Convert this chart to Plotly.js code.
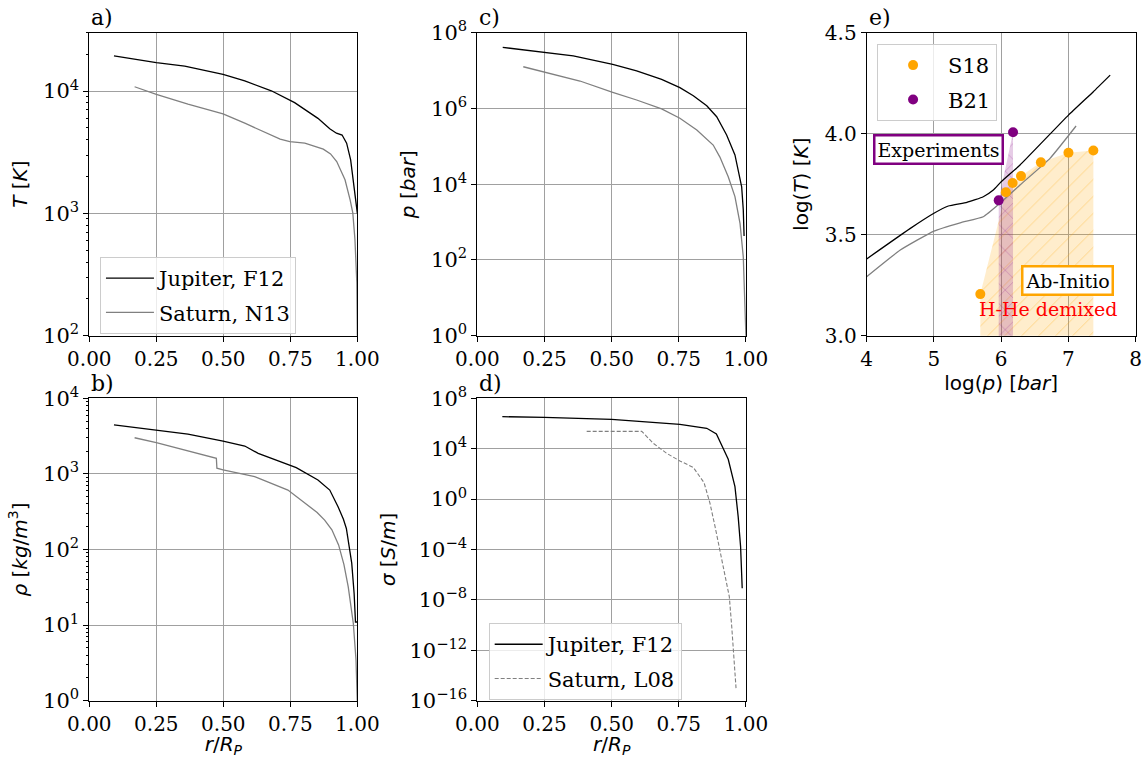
<!DOCTYPE html>
<html>
<head>
<meta charset="utf-8">
<script src="https://cdn.plot.ly/plotly-3.0.1.min.js"></script>
<style>html,body{margin:0;padding:0;background:#fff;}#chart{width:1145px;height:758px;}</style>
</head>
<body>
<div id="chart"></div>
<script>
// ---- Panel a: temperature vs radius ----
const rJupT = [0.092, 0.25, 0.356, 0.499, 0.58, 0.679, 0.766, 0.853, 0.897, 0.922, 0.943, 0.96, 0.975, 0.985, 0.993, 0.998, 1.0];
const TJup  = [19400, 17100, 16000, 13700, 12100, 10050, 8040, 5980, 4920, 4520, 4370, 3750, 2740, 1770, 1290, 1000, 1000];
const rSatT = [0.169, 0.25, 0.368, 0.499, 0.58, 0.667, 0.712, 0.748, 0.804, 0.873, 0.9, 0.923, 0.954, 0.973, 0.983, 0.991, 0.998, 1.0];
const TSat  = [10840, 9400, 7830, 6500, 5460, 4520, 4040, 3860, 3750, 3350, 3060, 2650, 1880, 1290, 1010, 611, 271, 95];

// ---- Panel b: density vs radius ----
const rJupRho = [0.092, 0.25, 0.368, 0.499, 0.58, 0.63, 0.692, 0.772, 0.853, 0.897, 0.928, 0.948, 0.959, 0.966, 0.979, 0.988, 0.993, 1.0];
const rhoJup  = [4440, 3810, 3370, 2720, 2340, 1870, 1560, 1210, 830, 612, 368, 251, 190, 135, 66, 26, 11, 11];
const rSatRho = [0.169, 0.25, 0.474, 0.476, 0.499, 0.617, 0.741, 0.816, 0.85, 0.878, 0.905, 0.93, 0.95, 0.966, 0.985, 0.995, 1.0];
const rhoSat  = [3010, 2590, 1610, 1190, 1130, 920, 612, 388, 309, 245, 182, 115, 63, 32, 10.5, 3.45, 0.9];

// ---- Panel c: pressure vs radius ----
const rJupP = [0.0945, 0.252, 0.357, 0.504, 0.593, 0.686, 0.754, 0.804, 0.854, 0.891, 0.928, 0.959, 0.971, 0.984, 0.99, 0.993];
const pJup  = [4.1e7, 3.03e7, 2.43e7, 1.46e7, 9.75e6, 5.87e6, 3.53e6, 2.17e6, 1.18e6, 6.05e5, 1.99e5, 5.9e4, 2.3e4, 8.5e3, 2.1e3, 430];
const rSatP = [0.171, 0.252, 0.382, 0.504, 0.593, 0.686, 0.754, 0.817, 0.878, 0.903, 0.92, 0.934, 0.959, 0.978, 0.99, 0.996, 1.0];
const pSat  = [1.26e7, 9.0e6, 5.3e6, 2.67e6, 1.67e6, 9.7e5, 5.5e5, 2.7e5, 1.08e5, 5.2e4, 2.8e4, 1.58e4, 4.7e3, 910, 120, 8.7, 0.9];

// ---- Panel d: conductivity vs radius ----
const rJupSig = [0.093, 0.25, 0.5, 0.63, 0.754, 0.854, 0.89, 0.934, 0.959, 0.971, 0.98, 0.986];
const sigJup  = [3.5e6, 3.1e6, 2.14e6, 1.41e6, 8.7e5, 4.2e5, 1.48e5, 1450, 9.8, 0.041, 1.7e-4, 8.3e-8];
const rSatSig = [0.407, 0.612, 0.655, 0.705, 0.754, 0.804, 0.844, 0.866, 0.885, 0.903, 0.922, 0.938, 0.947, 0.955, 0.963];
const sigSat  = [2.4e5, 2.4e5, 2.7e4, 4.3e3, 1.07e3, 330, 20, 0.47, 6.5e-3, 9.1e-5, 1.3e-6, 1.8e-8, 7.6e-11, 1.7e-13, 1e-15];

// ---- Panel e: log T vs log p ----
const lpJup = [4.0, 4.644, 5.0, 5.214, 5.49, 5.734, 5.883, 6.0, 6.28, 7.0, 7.37, 7.62];
const ltJup = [3.380, 3.530, 3.606, 3.642, 3.660, 3.688, 3.721, 3.762, 3.845, 4.092, 4.208, 4.29];
const lpSat = [4.0, 4.5, 5.0, 5.39, 5.734, 5.98, 6.28, 6.726, 7.113];
const ltSat = [3.292, 3.424, 3.518, 3.559, 3.589, 3.655, 3.746, 3.878, 4.038];
const lpS18 = [5.69, 6.07, 6.17, 6.295, 6.59, 7.0, 7.37];
const ltS18 = [3.206, 3.71, 3.756, 3.79, 3.858, 3.906, 3.917];
const lpB21 = [5.963, 6.176];
const ltB21 = [3.67, 4.007];

// ---- tick labels ----
const rTicks = [0, 0.25, 0.5, 0.75, 1.0];
const rTickText = ['0.00', '0.25', '0.50', '0.75', '1.00'];
const tTicks = [100, 1000, 10000];
const tTickText = ['10<sup>2</sup>', '10<sup>3</sup>', '10<sup>4</sup>'];
const rhoTicks = [1, 10, 100, 1000, 10000];
const rhoTickText = ['10<sup>0</sup>', '10<sup>1</sup>', '10<sup>2</sup>', '10<sup>3</sup>', '10<sup>4</sup>'];
const pTicks = [1, 1e2, 1e4, 1e6, 1e8];
const pTickText = ['10<sup>0</sup>', '10<sup>2</sup>', '10<sup>4</sup>', '10<sup>6</sup>', '10<sup>8</sup>'];
const sigTicks = [1e-16, 1e-12, 1e-8, 1e-4, 1, 1e4, 1e8];
const sigTickText = ['10<sup>\u221216</sup>', '10<sup>\u221212</sup>', '10<sup>\u22128</sup>', '10<sup>\u22124</sup>', '10<sup>0</sup>', '10<sup>4</sup>', '10<sup>8</sup>'];

function minorLog(d0, d1) {
  const v = [];
  for (let d = d0; d < d1; d++) for (let m = 2; m <= 9; m++) v.push(m * Math.pow(10, d));
  return v;
}

const BLACK = '#000000', GREY = '#808080', ORANGE = '#FFA500', PURPLE = '#800080';
const serif = 'DejaVu Serif', sans = 'DejaVu Sans';

const traces = [
  // a
  {x: rJupT, y: TJup, xaxis: 'x', yaxis: 'y', mode: 'lines', line: {color: BLACK, width: 1.3}, name: 'Jupiter, F12', legend: 'legend', legendgroup: 'a1'},
  {x: rSatT, y: TSat, xaxis: 'x', yaxis: 'y', mode: 'lines', line: {color: GREY, width: 1.3}, name: 'Saturn, N13', legend: 'legend', legendgroup: 'a2'},
  // b
  {x: rJupRho, y: rhoJup, xaxis: 'x2', yaxis: 'y2', mode: 'lines', line: {color: BLACK, width: 1.3}, showlegend: false},
  {x: rSatRho, y: rhoSat, xaxis: 'x2', yaxis: 'y2', mode: 'lines', line: {color: GREY, width: 1.3}, showlegend: false},
  // c
  {x: rJupP, y: pJup, xaxis: 'x3', yaxis: 'y3', mode: 'lines', line: {color: BLACK, width: 1.3}, showlegend: false},
  {x: rSatP, y: pSat, xaxis: 'x3', yaxis: 'y3', mode: 'lines', line: {color: GREY, width: 1.3}, showlegend: false},
  // d
  {x: rJupSig, y: sigJup, xaxis: 'x4', yaxis: 'y4', mode: 'lines', line: {color: BLACK, width: 1.3}, name: 'Jupiter, F12', legend: 'legend2', legendgroup: 'd1'},
  {x: rSatSig, y: sigSat, xaxis: 'x4', yaxis: 'y4', mode: 'lines', line: {color: GREY, width: 1.1, dash: '4px,2px'}, name: 'Saturn, L08', legend: 'legend2', legendgroup: 'd2'},
  // e fills
  {x: lpS18, y: ltS18, xaxis: 'x5', yaxis: 'y5', mode: 'none', fill: 'tozeroy', fillcolor: 'rgba(255,165,0,0.2)',
   fillpattern: {shape: '/', bgcolor: 'rgba(255,165,0,0.2)', fgcolor: 'rgba(255,165,0,0.35)', size: 12, solidity: 0.08}, showlegend: false, hoverinfo: 'skip'},
  {x: lpB21, y: ltB21, xaxis: 'x5', yaxis: 'y5', mode: 'none', fill: 'tozeroy', fillcolor: 'rgba(128,0,128,0.2)',
   fillpattern: {shape: 'x', bgcolor: 'rgba(128,0,128,0.2)', fgcolor: 'rgba(128,0,128,0.4)', size: 14, solidity: 0.08}, showlegend: false, hoverinfo: 'skip'},
  // e lines
  {x: lpJup, y: ltJup, xaxis: 'x5', yaxis: 'y5', mode: 'lines', line: {color: BLACK, width: 1.3, shape: 'spline', smoothing: 0.4}, showlegend: false},
  {x: lpSat, y: ltSat, xaxis: 'x5', yaxis: 'y5', mode: 'lines', line: {color: GREY, width: 1.3, shape: 'spline', smoothing: 0.4}, showlegend: false},
  // e points
  {x: lpS18, y: ltS18, xaxis: 'x5', yaxis: 'y5', mode: 'markers', marker: {color: ORANGE, size: 10}, name: 'S18', legend: 'legend3', legendgroup: 'e1'},
  {x: lpB21, y: ltB21, xaxis: 'x5', yaxis: 'y5', mode: 'markers', marker: {color: PURPLE, size: 10}, name: 'B21', legend: 'legend3', legendgroup: 'e2'}
];

const base = {
  showline: true, mirror: true, linecolor: BLACK, linewidth: 1,
  ticks: 'outside', ticklen: 5, tickwidth: 1, tickcolor: BLACK,
  showgrid: true, gridcolor: '#a0a0a0', gridwidth: 1, zeroline: false,
  tickfont: {family: serif, size: 20, color: BLACK}, automargin: false
};
function ax(extra) { return Object.assign({}, base, extra); }
const tf = {family: sans, size: 20, color: BLACK};
const logFont = {family: serif, size: 21, color: BLACK};

const xdA = [0.078, 0.3121], xdC = [0.4169, 0.6515], xdE = [0.7569, 0.9919];
const ydTop = [0.5571, 0.9569], ydBot = [0.0756, 0.4745];

const rx = (dom, anchor, withTitle) => ax({domain: dom, anchor: anchor, range: [0, 1], tickmode: 'array', tickvals: rTicks, ticktext: rTickText,
  title: withTitle ? {text: '<i>r</i>/<i>R<sub>P</sub></i>', font: tf, standoff: 6} : undefined});

const legBase = {bgcolor: 'rgba(255,255,255,0.8)', bordercolor: '#cccccc', borderwidth: 1,
  font: {family: serif, size: 21, color: BLACK}, itemwidth: 48, traceorder: 'grouped', tracegroupgap: 4,
  xanchor: 'left', yanchor: 'top'};

const layout = {
  width: 1145, height: 758, margin: {l: 0, r: 0, t: 0, b: 0},
  paper_bgcolor: '#ffffff', plot_bgcolor: '#ffffff',
  xaxis: rx(xdA, 'y', false),
  yaxis: ax({domain: ydTop, anchor: 'x', type: 'log', range: [2, Math.log10(3e4)], tickmode: 'array', tickvals: tTicks, ticktext: tTickText, tickfont: logFont,
    minor: {tickmode: 'array', tickvals: minorLog(2, 5), ticks: 'outside', ticklen: 2.5, tickcolor: BLACK, showgrid: false},
    title: {text: '<i>T</i> [<i>K</i>]', font: tf, standoff: 10}}),
  xaxis2: rx(xdA, 'y2', true),
  yaxis2: ax({domain: ydBot, anchor: 'x2', type: 'log', range: [0, 4], tickmode: 'array', tickvals: rhoTicks, ticktext: rhoTickText, tickfont: logFont,
    minor: {tickmode: 'array', tickvals: minorLog(0, 4), ticks: 'outside', ticklen: 2.5, tickcolor: BLACK, showgrid: false},
    title: {text: '<i>\u03c1</i> [<i>kg</i>/<i>m</i><sup>3</sup>]', font: tf, standoff: 10}}),
  xaxis3: rx(xdC, 'y3', false),
  yaxis3: ax({domain: ydTop, anchor: 'x3', type: 'log', range: [0, 8], tickmode: 'array', tickvals: pTicks, ticktext: pTickText, tickfont: logFont,
    title: {text: '<i>p</i> [<i>bar</i>]', font: tf, standoff: 10}}),
  xaxis4: rx(xdC, 'y4', true),
  yaxis4: ax({domain: ydBot, anchor: 'x4', type: 'log', range: [-16, 8], tickmode: 'array', tickvals: sigTicks, ticktext: sigTickText, tickfont: logFont,
    title: {text: '<i>\u03c3</i> [<i>S</i>/<i>m</i>]', font: tf, standoff: 8}}),
  xaxis5: ax({domain: xdE, anchor: 'y5', range: [4, 8], dtick: 1, tick0: 4,
    title: {text: 'log(<i>p</i>) [<i>bar</i>]', font: tf, standoff: 4}}),
  yaxis5: ax({domain: ydTop, anchor: 'x5', range: [3, 4.5], dtick: 0.5, tick0: 3, tickformat: '.1f',
    title: {text: 'log(<i>T</i>) [<i>K</i>]', font: tf, standoff: 10}}),
  legend: Object.assign({}, legBase, {x: 0.0873, y: 0.661}),
  legend2: Object.assign({}, legBase, {x: 0.4268, y: 0.178}),
  legend3: Object.assign({}, legBase, {x: 0.766, y: 0.942, itemwidth: 60}),
  annotations: [
    {xref: 'paper', yref: 'paper', x: 0.0777, y: 0.9578, xanchor: 'left', yanchor: 'bottom', text: 'a)', showarrow: false, font: {family: serif, size: 22, color: BLACK}},
    {xref: 'paper', yref: 'paper', x: 0.0777, y: 0.4754, xanchor: 'left', yanchor: 'bottom', text: 'b)', showarrow: false, font: {family: serif, size: 22, color: BLACK}},
    {xref: 'paper', yref: 'paper', x: 0.4169, y: 0.9578, xanchor: 'left', yanchor: 'bottom', text: 'c)', showarrow: false, font: {family: serif, size: 22, color: BLACK}},
    {xref: 'paper', yref: 'paper', x: 0.4169, y: 0.4754, xanchor: 'left', yanchor: 'bottom', text: 'd)', showarrow: false, font: {family: serif, size: 22, color: BLACK}},
    {xref: 'paper', yref: 'paper', x: 0.7569, y: 0.9578, xanchor: 'left', yanchor: 'bottom', text: 'e)', showarrow: false, font: {family: serif, size: 22, color: BLACK}},
    {xref: 'x5', yref: 'y5', x: 5.075, y: 3.924, text: 'Experiments', showarrow: false, font: {family: serif, size: 19, color: BLACK},
     bgcolor: '#ffffff', bordercolor: PURPLE, borderwidth: 2.5, borderpad: 2},
    {xref: 'x5', yref: 'y5', x: 6.99, y: 3.273, text: 'Ab-Initio', showarrow: false, font: {family: serif, size: 19, color: BLACK},
     bgcolor: '#ffffff', bordercolor: ORANGE, borderwidth: 2.5, borderpad: 2},
    {xref: 'x5', yref: 'y5', x: 6.695, y: 3.132, text: 'H-He demixed', showarrow: false, font: {family: serif, size: 19, color: '#ff0000'}}
  ]
};

Plotly.newPlot('chart', traces, layout, {staticPlot: true, displayModeBar: false});
</script>
</body>
</html>
